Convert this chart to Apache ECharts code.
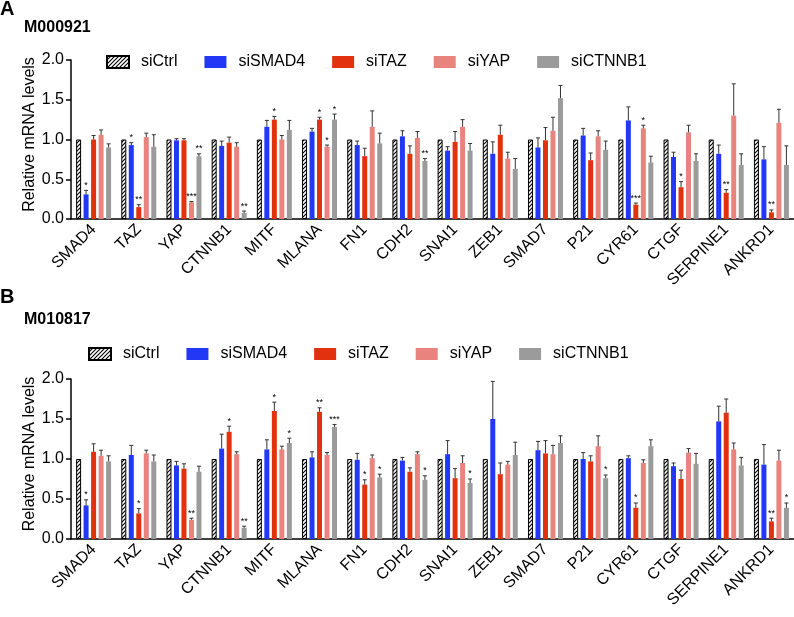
<!DOCTYPE html>
<html>
<head>
<meta charset="utf-8">
<script src="https://cdn.jsdelivr.net/npm/echarts@6/dist/echarts.min.js"></script>
<style>
  html, body { margin: 0; padding: 0; background: #fff; }
  #chart { width: 794px; height: 617px; }
</style>
</head>
<body>
<div id="chart"></div>
<script>
var genes = ['SMAD4', 'TAZ', 'YAP', 'CTNNB1', 'MITF', 'MLANA', 'FN1', 'CDH2', 'SNAI1', 'ZEB1', 'SMAD7', 'P21', 'CYR61', 'CTGF', 'SERPINE1', 'ANKRD1'];
var groups = ['siCtrl', 'siSMAD4', 'siTAZ', 'siYAP', 'siCTNNB1'];
var yTicks = [0, 0.5, 1.0, 1.5, 2.0];

// panel A - M000921 (mean, sd, stars)
var ctrlA = [1, 1, 1, 1, 1, 1, 1, 1, 1, 1, 1, 1, 1, 1, 1, 1];
var ctrlSdA = [0, 0, 0, 0, 0, 0, 0, 0, 0, 0, 0, 0, 0, 0, 0, 0];
var smad4A = [0.31, 0.93, 0.99, 0.92, 1.16, 1.10, 0.93, 1.04, 0.86, 0.82, 0.90, 1.05, 1.24, 0.78, 0.82, 0.75];
var smad4SdA = [0.05, 0.03, 0.02, 0.06, 0.08, 0.04, 0.05, 0.07, 0.05, 0.15, 0.12, 0.09, 0.17, 0.06, 0.11, 0.16];
var tazA = [1.00, 0.15, 0.99, 0.96, 1.25, 1.25, 0.79, 0.82, 0.97, 1.06, 0.99, 0.74, 0.18, 0.40, 0.33, 0.084];
var tazSdA = [0.05, 0.03, 0.02, 0.07, 0.04, 0.03, 0.10, 0.10, 0.13, 0.12, 0.16, 0.09, 0.02, 0.07, 0.04, 0.03];
var yapA = [1.06, 1.03, 0.21, 0.91, 1.00, 0.91, 1.16, 1.02, 1.16, 0.76, 1.11, 1.04, 1.14, 1.09, 1.30, 1.21];
var yapSdA = [0.06, 0.05, 0.01, 0.05, 0.05, 0.02, 0.20, 0.08, 0.09, 0.08, 0.17, 0.07, 0.04, 0.09, 0.40, 0.17];
var ctnnb1A = [0.90, 0.91, 0.79, 0.076, 1.12, 1.25, 0.95, 0.73, 0.86, 0.63, 1.52, 0.87, 0.71, 0.73, 0.68, 0.68];
var ctnnb1SdA = [0.045, 0.15, 0.03, 0.024, 0.12, 0.07, 0.13, 0.03, 0.09, 0.13, 0.16, 0.11, 0.08, 0.09, 0.14, 0.24];
var starsA = [
  ['', '', '', '', '', '', '', '', '', '', '', '', '', '', '', ''],
  ['*', '*', '', '', '', '', '', '', '', '', '', '', '', '', '', ''],
  ['', '**', '', '', '*', '*', '', '', '', '', '', '', '***', '*', '**', '**'],
  ['', '', '***', '', '', '*', '', '', '', '', '', '', '*', '', '', ''],
  ['', '', '**', '**', '', '*', '', '**', '', '', '', '', '', '', '', '']
];

// panel B - M010817
var ctrlB = [1, 1, 1, 1, 1, 1, 1, 1, 1, 1, 1, 1, 1, 1, 1, 1];
var ctrlSdB = [0, 0, 0, 0, 0, 0, 0, 0, 0, 0, 0, 0, 0, 0, 0, 0];
var smad4B = [0.42, 1.05, 0.92, 1.13, 1.12, 1.02, 0.99, 0.98, 1.06, 1.50, 1.11, 1.00, 1.01, 0.91, 1.47, 0.93];
var smad4SdB = [0.07, 0.12, 0.05, 0.18, 0.12, 0.07, 0.08, 0.04, 0.17, 0.47, 0.11, 0.08, 0.03, 0.04, 0.19, 0.25];
var tazB = [1.09, 0.32, 0.88, 1.34, 1.60, 1.59, 0.68, 0.84, 0.76, 0.81, 1.07, 0.97, 0.39, 0.75, 1.58, 0.22];
var tazSdB = [0.10, 0.06, 0.06, 0.07, 0.11, 0.05, 0.06, 0.05, 0.12, 0.14, 0.16, 0.07, 0.06, 0.11, 0.17, 0.04];
var yapB = [1.04, 1.07, 0.24, 1.06, 1.12, 1.05, 1.01, 1.06, 0.95, 0.93, 1.06, 1.16, 0.95, 1.08, 1.12, 0.98];
var yapSdB = [0.07, 0.04, 0.02, 0.03, 0.04, 0.03, 0.04, 0.03, 0.09, 0.04, 0.11, 0.13, 0.04, 0.05, 0.08, 0.13];
var ctnnb1B = [0.97, 0.97, 0.84, 0.14, 1.20, 1.40, 0.77, 0.74, 0.70, 1.05, 1.20, 0.76, 1.16, 0.94, 0.92, 0.39];
var ctnnb1SdB = [0.07, 0.08, 0.07, 0.02, 0.06, 0.03, 0.04, 0.05, 0.05, 0.16, 0.09, 0.04, 0.08, 0.13, 0.10, 0.06];
var starsB = [
  ['', '', '', '', '', '', '', '', '', '', '', '', '', '', '', ''],
  ['*', '', '', '', '', '', '', '', '', '', '', '', '', '', '', ''],
  ['', '*', '', '*', '*', '**', '*', '', '', '', '', '', '*', '', '', '**'],
  ['', '', '**', '', '', '', '', '', '', '', '', '', '', '', '', ''],
  ['', '', '', '**', '*', '***', '*', '*', '*', '', '', '*', '', '', '', '*']
];

var meansA = [ctrlA, smad4A, tazA, yapA, ctnnb1A];
var sdsA = [ctrlSdA, smad4SdA, tazSdA, yapSdA, ctnnb1SdA];
var meansB = [ctrlB, smad4B, tazB, yapB, ctnnb1B];
var sdsB = [ctrlSdB, smad4SdB, tazSdB, yapSdB, ctnnb1SdB];

// hatched fill for siCtrl
var hatch = document.createElement('canvas');
hatch.width = 4; hatch.height = 4;
var hc = hatch.getContext('2d');
hc.fillStyle = '#fff';
hc.fillRect(0, 0, 4, 4);
hc.strokeStyle = '#000';
hc.lineWidth = 1.1;
hc.beginPath();
hc.moveTo(0, 4); hc.lineTo(4, 0);
hc.moveTo(-1, 1); hc.lineTo(1, -1);
hc.moveTo(3, 5); hc.lineTo(5, 3);
hc.stroke();

var colors = [{ image: hatch, repeat: 'repeat' }, '#2338F7', '#E2310F', '#E8837D', '#9B9B9B'];
var barW = 5, step = 7.5;
var font = 'Liberation Sans, Arial, sans-serif';

var series = [];
function addPanel(idx, means, sds, stars) {
  for (var g = 0; g < groups.length; g++) {
    series.push({
      name: groups[g],
      type: 'bar',
      xAxisIndex: idx, yAxisIndex: idx,
      barWidth: barW,
      barGap: '50%',
      itemStyle: g === 0 ? { color: colors[0], borderColor: '#000', borderWidth: 1 } : { color: colors[g] },
      emphasis: { disabled: true },
      data: means[g]
    });
  }
  for (var g2 = 0; g2 < groups.length; g2++) {
    (function (g) {
      var data = means[g].map(function (v, i) { return [i, v, sds[g][i]]; });
      series.push({
        name: 'err' + idx + '_' + g,
        type: 'custom',
        xAxisIndex: idx, yAxisIndex: idx,
        z: 5,
        silent: true,
        data: data,
        renderItem: function (params, api) {
          var i = api.value(0), v = api.value(1), sd = api.value(2);
          var x = api.coord([i, 0])[0] + (g - 2) * step;
          var yb = api.coord([i, v])[1];
          var yt = api.coord([i, v + sd])[1];
          var kids = [];
          if (sd > 0) {
            kids.push({ type: 'line', shape: { x1: x, y1: yb, x2: x, y2: yt }, style: { stroke: '#333', lineWidth: 1 } });
            kids.push({ type: 'line', shape: { x1: x - 2, y1: yt, x2: x + 2, y2: yt }, style: { stroke: '#333', lineWidth: 1 } });
          }
          var s = stars[g][params.dataIndex];
          if (s) {
            kids.push({ type: 'text', style: { x: x, y: yt - 0.5, text: s, fill: '#000', font: '9px ' + font, align: 'center', verticalAlign: 'bottom' } });
          }
          return { type: 'group', children: kids };
        }
      });
    })(g2);
  }
}
addPanel(0, meansA, sdsA, starsA);
addPanel(1, meansB, sdsB, starsB);

function xAx(idx) {
  return {
    type: 'category', gridIndex: idx, data: genes,
    axisLine: { lineStyle: { color: '#000', width: 1.5 } },
    axisTick: { alignWithLabel: true, length: 5, lineStyle: { color: '#000', width: 1.5 } },
    axisLabel: { rotate: 45, interval: 0, fontSize: 16, color: '#000', fontFamily: font, margin: 8 }
  };
}
function yAx(idx) {
  return {
    type: 'value', gridIndex: idx, min: yTicks[0], max: yTicks[yTicks.length - 1], interval: 0.5,
    name: 'Relative mRNA levels', nameLocation: 'middle', nameGap: 33, nameMoveOverlap: false,
    nameTextStyle: { fontSize: 16, color: '#000', fontFamily: font, padding: [0, 0, 0, 10] },
    axisLine: { show: true, lineStyle: { color: '#000', width: 1.5 } },
    axisTick: { show: true, length: 5, lineStyle: { color: '#000', width: 1.5 } },
    splitLine: { show: false },
    axisLabel: { fontSize: 16, color: '#000', fontFamily: font, margin: 7, formatter: function (v) { return v.toFixed(1); } }
  };
}
function legend(left, top) {
  return {
    left: left, top: top, data: groups, icon: 'rect',
    itemWidth: 22, itemHeight: 12, itemGap: 27, selectedMode: false,
    textStyle: { fontSize: 16, color: '#000', fontFamily: font, padding: [0, 0, 0, 7] }
  };
}

var myChart = echarts.init(document.getElementById('chart'));
var option = {
  animation: false,
  backgroundColor: '#fff',
  grid: [
    { left: 71, top: 60, width: 724, height: 159 },
    { left: 71, top: 379, width: 724, height: 160 }
  ],
  legend: [legend(101, 49), legend(83, 341)],
  xAxis: [xAx(0), xAx(1)],
  yAxis: [yAx(0), yAx(1)],
  graphic: [
    { type: 'text', left: 0, top: -1, style: { text: 'A', font: 'bold 20px ' + font, fill: '#000' } },
    { type: 'text', left: 24, top: 20, style: { text: 'M000921', font: 'bold 16px ' + font, fill: '#000' } },
    { type: 'text', left: 0, top: 287, style: { text: 'B', font: 'bold 20px ' + font, fill: '#000' } },
    { type: 'text', left: 24, top: 312, style: { text: 'M010817', font: 'bold 16px ' + font, fill: '#000' } }
  ],
  series: series
};
myChart.setOption(option);
</script>
</body>
</html>
